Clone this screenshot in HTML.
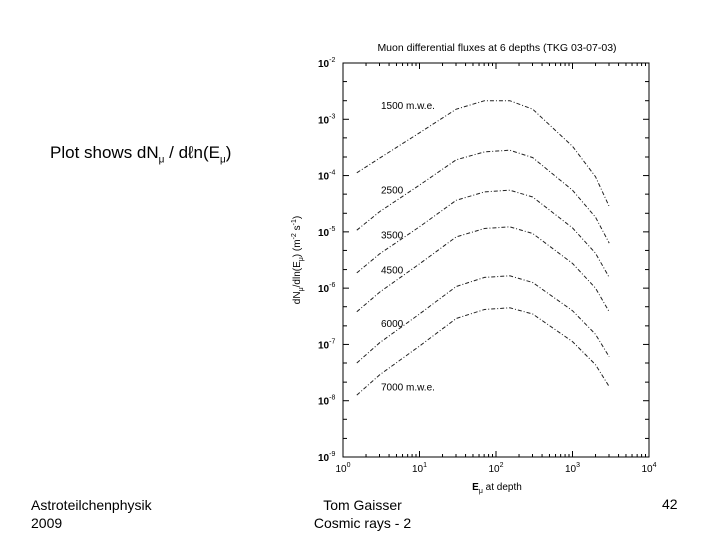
<!DOCTYPE html>
<html><head><meta charset="utf-8"><style>
html,body{margin:0;padding:0;background:#fff;}
body{width:720px;height:540px;overflow:hidden;position:relative;font-family:"Liberation Sans",sans-serif;}
.t{position:absolute;color:#000;white-space:nowrap;}
</style></head><body>
<div class="t" style="left:50px;top:143px;font-size:17px;">Plot shows dN<sub style="font-size:10px">μ</sub> / dℓn(E<sub style="font-size:10px">μ</sub>)</div>
<div class="t" style="left:31px;top:496px;font-size:14px;line-height:18px;">Astroteilchenphysik<br>2009</div>
<div class="t" style="left:300px;top:496px;width:125px;text-align:center;font-size:14px;line-height:18px;">Tom Gaisser<br>Cosmic rays - 2</div>
<div class="t" style="left:662px;top:496px;font-size:14px;">42</div>
<svg id="chart" width="720" height="540" style="position:absolute;left:0;top:0" font-family="Liberation Sans, sans-serif"></svg>
<script>
const energiesLog = [0.18,0.48,1.0,1.48,1.85,2.18,2.48,3.0,3.3,3.48];
const depths = ["1500","2500","3500","4500","6000","7000"];
const flux1500 = [-3.95,-3.69,-3.24,-2.82,-2.67,-2.67,-2.82,-3.48,-4.02,-4.55];
const flux2500 = [-4.97,-4.64,-4.17,-3.72,-3.58,-3.55,-3.68,-4.26,-4.74,-5.20];
const flux3500 = [-5.73,-5.39,-4.91,-4.44,-4.29,-4.26,-4.38,-4.93,-5.38,-5.81];
const flux4500 = [-6.42,-6.07,-5.57,-5.09,-4.94,-4.91,-5.03,-5.56,-6.00,-6.42];
const flux6000 = [-7.33,-6.97,-6.46,-5.97,-5.81,-5.78,-5.90,-6.40,-6.82,-7.22];
const flux7000 = [-7.90,-7.54,-7.03,-6.54,-6.38,-6.35,-6.46,-6.95,-7.36,-7.75];
const curveLabels = ["1500 m.w.e.","2500","3500","4500","6000","7000 m.w.e."];
const labelYs = [-2.75,-4.25,-5.05,-5.67,-6.62,-7.75];
const xTickExps = [0,1,2,3,4];
const yTickExps = [-2,-3,-4,-5,-6,-7,-8,-9];

const L=343,R=649,T=63,B=457;
const xs=v=>L+(v-0)/4*(R-L);
const ys=v=>T+(-2-v)/7*(B-T);
const svg=document.getElementById('chart');
const NS='http://www.w3.org/2000/svg';
function mk(tag,attrs){const e=document.createElementNS(NS,tag);for(const k in attrs)e.setAttribute(k,attrs[k]);svg.appendChild(e);return e;}

let e=mk('rect',{x:L,y:T,width:R-L,height:B-T,fill:'none',stroke:'#000','stroke-width':1});



e=mk('text',{x:497,y:51,'font-size':10.5,'text-anchor':'middle'});e.textContent='Muon differential fluxes at 6 depths (TKG 03-07-03)';



xTickExps.forEach(p=>{
  const x=xs(p);
  mk('line',{x1:x,y1:B,x2:x,y2:B-6,stroke:'#000'});
  mk('line',{x1:x,y1:T,x2:x,y2:T+6,stroke:'#000'});
  if(p<4){for(let m=2;m<10;m++){const xm=xs(p+Math.log10(m));mk('line',{x1:xm,y1:B,x2:xm,y2:B-3,stroke:'#000'});mk('line',{x1:xm,y1:T,x2:xm,y2:T+3,stroke:'#000'});}}
  const t=mk('text',{x:x,y:B+15,'font-size':10,'text-anchor':'middle'});
  t.innerHTML='10<tspan dy="-5" font-size="7">'+p+'</tspan>';
  
  
});
yTickExps.forEach((p,i)=>{
  const y=ys(p);
  mk('line',{x1:L,y1:y,x2:L+6,y2:y,stroke:'#000'});
  mk('line',{x1:R,y1:y,x2:R-6,y2:y,stroke:'#000'});
  if(i<yTickExps.length-1){[0.33,0.67].forEach(f=>{const ym=ys(p-f);mk('line',{x1:L,y1:ym,x2:L+4,y2:ym,stroke:'#000'});mk('line',{x1:R,y1:ym,x2:R-4,y2:ym,stroke:'#000'});});}
  const t=mk('text',{x:318,y:y+4,'font-size':10,'font-weight':'bold'});
  t.innerHTML='10<tspan dy="-5" font-size="7" font-weight="normal">'+p+'</tspan>';
  
  
});

e=mk('text',{x:497,y:490,'font-size':10,'text-anchor':'middle'});
e.innerHTML='<tspan font-weight="bold">E</tspan><tspan font-size="7" dy="3">μ</tspan><tspan dy="-3"> at depth</tspan>';



e=mk('text',{x:0,y:0,'font-size':10,'text-anchor':'middle',transform:'translate(300,260) rotate(-90)'});
e.innerHTML='dN<tspan font-size="7" dy="3">μ</tspan><tspan dy="-3">/dln(E</tspan><tspan font-size="7" dy="3">μ</tspan><tspan dy="-3">) (m</tspan><tspan font-size="7" dy="-4">-2</tspan><tspan dy="4"> s</tspan><tspan font-size="7" dy="-4">-1</tspan><tspan dy="4">)</tspan>';



const series=[flux1500,flux2500,flux3500,flux4500,flux6000,flux7000];
series.forEach((s,i)=>{
  const d=s.map((v,j)=>(j?'L':'M')+xs(energiesLog[j]).toFixed(1)+','+ys(v).toFixed(1)).join(' ');
  const p=mk('path',{d:d,fill:'none',stroke:'#222','stroke-width':1,'stroke-dasharray':'4,2,1,2'});
  
  
  const t=mk('text',{x:381,y:ys(labelYs[i])+4,'font-size':10});
  t.textContent=curveLabels[i];
  
  
});
</script>
</body></html>
